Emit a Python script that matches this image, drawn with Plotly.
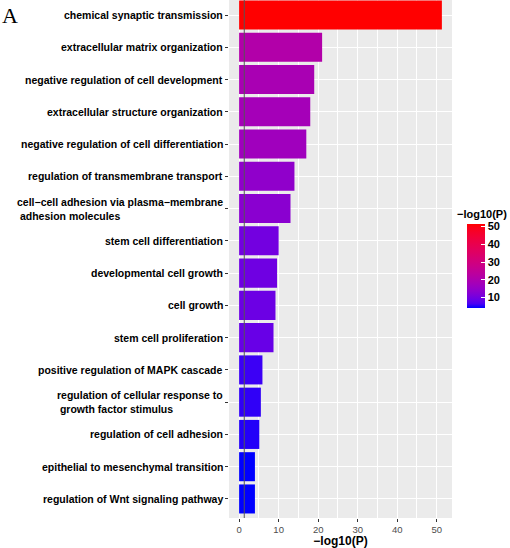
import plotly.graph_objects as go
import numpy as np

# ---- data (top to bottom) ----
terms = [
    "chemical synaptic transmission",
    "extracellular matrix organization",
    "negative regulation of cell development",
    "extracellular structure organization",
    "negative regulation of cell differentiation",
    "regulation of transmembrane transport",
    "cell\u2212cell adhesion via plasma\u2212membrane<br>\u00a0adhesion molecules",
    "stem cell differentiation",
    "developmental cell growth",
    "cell growth",
    "stem cell proliferation",
    "positive regulation of MAPK cascade",
    "regulation of cellular response to<br>\u00a0growth factor stimulus",
    "regulation of cell adhesion",
    "epithelial to mesenchymal transition",
    "regulation of Wnt signaling pathway",
]
neglogp = [51.3, 21.0, 19.0, 18.0, 17.0, 14.0, 13.0, 10.0, 9.6, 9.2, 8.7, 5.9, 5.5, 5.1, 4.0, 4.0]
x_ticks = [0, 10, 20, 30, 40, 50]
cbar_ticks = [10, 20, 30, 40, 50]
threshold = 1.3

# ---- Lab-interpolated blue->red gradient (like ggplot scale_fill_gradient) ----
def _lin(c):
    c = c / 255.0
    return c / 12.92 if c <= 0.04045 else ((c + 0.055) / 1.055) ** 2.4

def _gam(c):
    c = 12.92 * c if c <= 0.0031308 else 1.055 * c ** (1 / 2.4) - 0.055
    return int(round(min(max(c, 0), 1) * 255))

M = np.array([[0.4124, 0.3576, 0.1805], [0.2126, 0.7152, 0.0722], [0.0193, 0.1192, 0.9505]])
Minv = np.linalg.inv(M)
WP = np.array([0.95047, 1.0, 1.08883])

def rgb2lab(rgb):
    xyz = M @ np.array([_lin(c) for c in rgb]) / WP
    f = np.where(xyz > 0.008856, np.cbrt(xyz), 7.787 * xyz + 16 / 116)
    return np.array([116 * f[1] - 16, 500 * (f[0] - f[1]), 200 * (f[1] - f[2])])

def lab2rgb(lab):
    fy = (lab[0] + 16) / 116
    fx = fy + lab[1] / 500
    fz = fy - lab[2] / 200
    f = np.array([fx, fy, fz])
    xyz = np.where(f ** 3 > 0.008856, f ** 3, (f - 16 / 116) / 7.787) * WP
    rgb = Minv @ xyz
    return "rgb(%d,%d,%d)" % tuple(_gam(c) for c in rgb)

lo, hi = rgb2lab((0, 0, 255)), rgb2lab((255, 0, 0))
colorscale = [[t, lab2rgb(lo + (hi - lo) * t)] for t in np.linspace(0, 1, 21)]

FONT = "Liberation Sans, Arial, Helvetica"

fig = go.Figure()
fig.add_trace(go.Bar(
    x=neglogp, y=terms, orientation="h",
    marker=dict(
        color=neglogp, colorscale=colorscale,
        cmin=min(neglogp), cmax=max(neglogp),
        line=dict(width=0),
        colorbar=dict(
            tickvals=cbar_ticks,
            ticks="inside", ticklen=4, tickcolor="white", tickwidth=1,
            tickfont=dict(family=FONT, size=11, color="black", weight="bold"),
            thickness=18, len=84, lenmode="pixels",
            x=1.067, xanchor="left", y=0.486, yanchor="middle",
            xpad=0, ypad=0, outlinewidth=0,
        ),
    ),
    hoverinfo="x+y",
))

fig.add_shape(type="line", xref="x", yref="paper", x0=threshold, x1=threshold, y0=0, y1=1,
              line=dict(color="#555555", width=1), layer="above")

for t in terms:
    fig.add_annotation(text=t, x=0, xref="paper", xanchor="right", xshift=-4,
                       y=t, yref="y", yanchor="middle", align="left", showarrow=False,
                       font=dict(family=FONT, size=10.5, color="black", weight="bold"))

# colorbar title
fig.add_annotation(text="\u2212log10(P)", x=1.135, y=0.572, xref="paper", yref="paper",
                   xanchor="center", yanchor="bottom", showarrow=False,
                   font=dict(family=FONT, size=11, color="black", weight="bold"))

fig.add_annotation(text="A", x=0, y=1, xref="paper", yref="paper", xanchor="left", yanchor="top",
                   xshift=-229, yshift=-1, showarrow=False,
                   font=dict(family="Liberation Serif, Times New Roman", size=22, color="black"))

fig.update_layout(
    width=510, height=548,
    margin=dict(l=229, r=58, t=0, b=30),
    plot_bgcolor="#EBEBEB", paper_bgcolor="white",
    bargap=0.1, showlegend=False,
    xaxis=dict(range=[-2.56, 53.86], tickvals=x_ticks, ticks="outside", ticklen=3,
               tickcolor="#333333", tickfont=dict(family=FONT, size=9.5, color="#4D4D4D"),
               showgrid=True, gridcolor="white", gridwidth=1.1, zeroline=False,
               minor=dict(dtick=5, tick0=5, showgrid=True, gridcolor="white", gridwidth=0.5),
               title=dict(text="\u2212log10(P)", standoff=3,
                          font=dict(family=FONT, size=12, color="black", weight="bold"))),
    yaxis=dict(type="category", categoryorder="array", categoryarray=terms,
               range=[15.59, -0.465], showticklabels=False, ticks="outside", ticklen=3,
               tickcolor="#333333", showgrid=True, gridcolor="white", gridwidth=1.1, zeroline=False),
)

fig.write_html("out.html", config={"displayModeBar": False},
               post_script="document.body.style.margin='0';document.body.style.padding='0';")
